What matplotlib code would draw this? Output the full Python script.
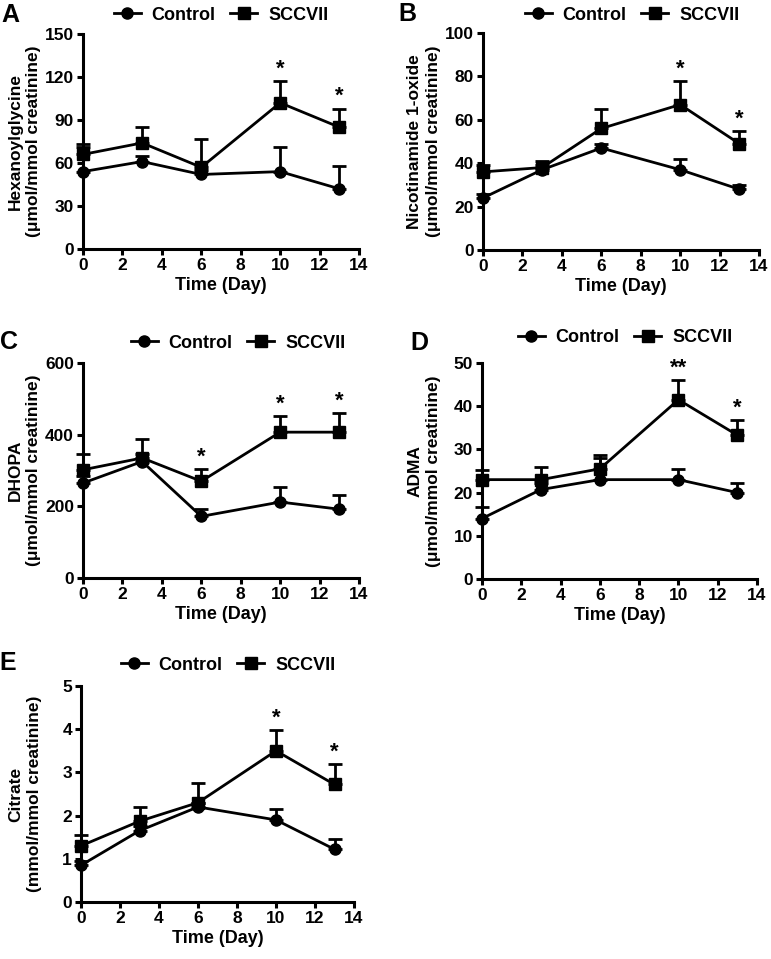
#!/usr/bin/env python3
# Urinary metabolites over time, Control vs SCCVII (5 panels, Prism style)

import numpy as np
import matplotlib.pyplot as plt
from matplotlib.lines import Line2D

plt.rcParams['font.family'] = ['Liberation Sans', 'DejaVu Sans']
plt.rcParams['font.weight'] = 'bold'

W, H = 771, 959

days = [0, 3, 6, 10, 13]
xticks = [0, 2, 4, 6, 8, 10, 12, 14]

# Panel A - Hexanoylglycine
hex_ctrl = [54, 61, 52, 54, 42]
hex_ctrl_err = [17, 4, 3, 17, 16]
hex_scc = [66, 74, 57, 102, 85]
hex_scc_err = [7, 11, 20, 15, 13]
hex_stars = [(10, '*'), (13, '*')]

# Panel B - Nicotinamide 1-oxide
nic_ctrl = [24, 37, 47, 37, 28]
nic_ctrl_err = [2, 2, 2, 5, 2]
nic_scc = [36, 38, 56, 67, 49]
nic_scc_err = [3, 3, 9, 11, 6]
nic_stars = [(10, '*'), (13, '*')]

# Panel C - DHOPA
dho_ctrl = [265, 325, 172, 212, 192]
dho_ctrl_err = [20, 20, 21, 43, 40]
dho_scc = [302, 335, 270, 407, 407]
dho_scc_err = [43, 52, 35, 45, 53]
dho_stars = [(6, '*'), (10, '*'), (13, '*')]

# Panel D - ADMA
adm_ctrl = [14, 20.7, 23, 23, 20]
adm_ctrl_err = [2.7, 1.5, 5, 2.5, 2.3]
adm_scc = [23, 23, 25.5, 41.5, 33.3]
adm_scc_err = [2.3, 3, 3.3, 4.5, 3.5]
adm_stars = [(10, '**'), (13, '*')]

# Panel E - Citrate
cit_ctrl = [0.85, 1.65, 2.2, 1.9, 1.22]
cit_ctrl_err = [0.1, 0.1, 0.1, 0.25, 0.23]
cit_scc = [1.3, 1.87, 2.3, 3.5, 2.72]
cit_scc_err = [0.25, 0.33, 0.45, 0.48, 0.48]
cit_stars = [(10, '*'), (13, '*')]

panels = [
    # letter, ylabel, ylim, yticks, ctrl, ctrl_err, scc, scc_err, stars,
    # axes box px (left, top, right, bottom), letter px, legend centre px,
    # ylabel right edge px
    ('A', 'Hexanoylglycine\n(\u03bcmol/mmol creatinine)', 150, np.arange(0, 151, 30),
     hex_ctrl, hex_ctrl_err, hex_scc, hex_scc_err, hex_stars,
     (83, 34, 359, 249), (1, 3), (221, 15), 41),
    ('B', 'Nicotinamide 1-oxide\n(\u03bcmol/mmol creatinine)', 100, np.arange(0, 101, 20),
     nic_ctrl, nic_ctrl_err, nic_scc, nic_scc_err, nic_stars,
     (483, 33, 759, 250), (398, 2), (632, 15), 441),
    ('C', 'DHOPA\n(\u03bcmol/mmol creatinine)', 600, np.arange(0, 601, 200),
     dho_ctrl, dho_ctrl_err, dho_scc, dho_scc_err, dho_stars,
     (83, 363, 359, 578), (0, 330), (238, 343), 41),
    ('D', 'ADMA\n(\u03bcmol/mmol creatinine)', 50, np.arange(0, 51, 10),
     adm_ctrl, adm_ctrl_err, adm_scc, adm_scc_err, adm_stars,
     (482, 363, 757, 579), (410, 331), (625, 338), 441),
    ('E', 'Citrate\n(mmol/mmol creatinine)', 5, np.arange(0, 6, 1),
     cit_ctrl, cit_ctrl_err, cit_scc, cit_scc_err, cit_stars,
     (81, 686, 354, 902), (-1, 651), (228, 665), 42),
]

LW = 2.0
fig = plt.figure(figsize=(W / 100, H / 100), dpi=100)

for (letter, ylab, ymax, yticks, ctrl, ctrl_err, scc, scc_err, stars,
     box, let_px, leg_px, ylab_px) in panels:
    l, t, r, b = box
    ax = fig.add_axes([l / W, 1 - b / H, (r - l) / W, (b - t) / H])

    zero = np.zeros(len(days))
    ax.errorbar(days, ctrl, yerr=[zero, ctrl_err], fmt='-o', color='black',
                lw=LW, ms=8, capsize=4.8, elinewidth=LW, capthick=LW,
                zorder=3, clip_on=False)
    ax.errorbar(days, scc, yerr=[zero, scc_err], fmt='-s', color='black',
                lw=LW, ms=9, capsize=4.8, elinewidth=LW, capthick=LW,
                zorder=4, clip_on=False)

    # significance stars above the SCCVII caps
    for xs, lab in stars:
        i = days.index(xs)
        top = scc[i] + scc_err[i]
        ax.annotate(lab, (xs, top), xytext=(0, 1), textcoords='offset points',
                    ha='center', va='bottom', fontsize=16, fontweight='bold')

    ax.set_xlim(0, 14)
    ax.set_ylim(0, ymax)
    ax.set_xticks(xticks)
    ax.set_yticks(yticks)
    for s in ['top', 'right']:
        ax.spines[s].set_visible(False)
    for s in ['left', 'bottom']:
        ax.spines[s].set_linewidth(2.2)
    ax.tick_params(direction='out', length=4, width=2.2, labelsize=12.5, pad=2.5)
    for lab in ax.get_xticklabels() + ax.get_yticklabels():
        lab.set_fontweight('bold')
    ax.set_xlabel('Time (Day)', fontsize=13, fontweight='bold', labelpad=3)
    ax.set_ylabel(ylab, fontsize=12.5, fontweight='bold', linespacing=1.3)
    ax.yaxis.set_label_coords((ylab_px - l) / (r - l), 0.5)

    handles = [
        Line2D([], [], color='black', lw=LW, marker='o', ms=8),
        Line2D([], [], color='black', lw=LW, marker='s', ms=9),
    ]
    ax.legend(handles, ['Control', 'SCCVII'], loc='center', ncol=2,
              frameon=False,
              bbox_to_anchor=(leg_px[0] / W, 1 - leg_px[1] / H),
              bbox_transform=fig.transFigure,
              prop={'weight': 'bold', 'size': 13},
              handlelength=1.5, handletextpad=0.6, columnspacing=0.8,
              borderpad=0, borderaxespad=0)

    fig.text(let_px[0] / W, 1 - let_px[1] / H, letter, fontsize=18,
             fontweight='bold', ha='left', va='top')

fig.savefig('out.png', dpi=100, facecolor='white')
